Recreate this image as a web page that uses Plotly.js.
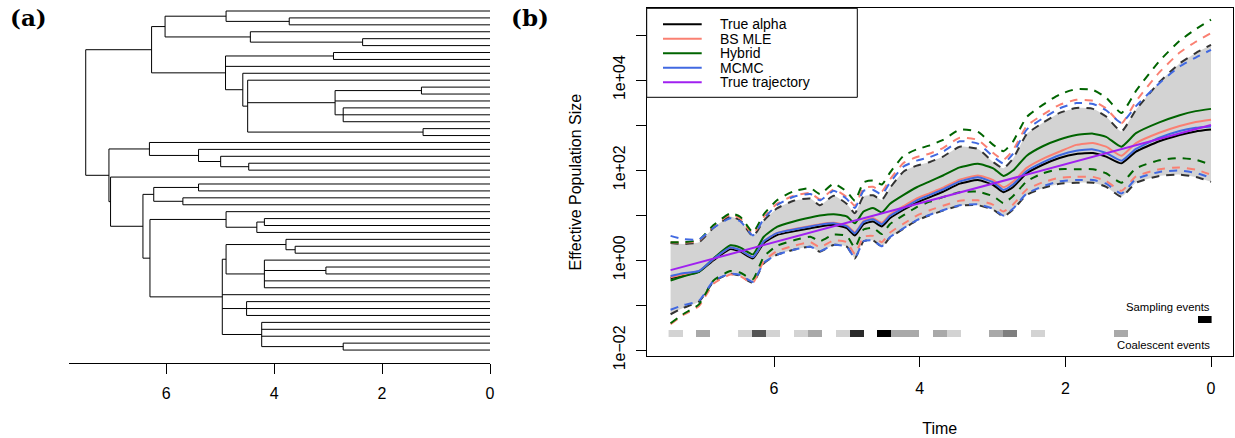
<!DOCTYPE html>
<html><head><meta charset="utf-8">
<script src="https://cdn.plot.ly/plotly-3.0.1.min.js"></script>
<style>html,body{margin:0;padding:0;background:#fff}#chart{width:1235px;height:438px}</style>
</head><body><div id="chart"></div>
<script>
// ---------------- Panel (a): genealogy ----------------
const tipCount = 50;
const nodeIds  = ['n1','n2','n3','n4','n5','n6','n7','n8','n9','n10','n11','n12','n13','n14',
                  'n15','n16','n17','n18','n19','n20','n21','n22','n23','n24','n25','n26','n27','n28',
                  'n29','n30','n31','n32','n33','n34','n35','n36','n37','root'];
const nodeAges = [3.72,4.89,2.36,4.44,6.02,2.90,1.27,2.72,2.87,1.24,4.49,4.58,4.90,6.27,
                  4.47,4.99,5.40,6.31,5.40,5.69,6.23,4.18,4.32,4.89,3.61,3.78,3.04,4.18,
                  4.89,4.51,2.72,4.23,4.96,6.30,6.43,7.03,7.06,7.49];
const nodeKids = [[1,2],[0,'n1'],[4,5],[3,'n3'],['n2','n4'],[6,7],[11,12],[14,15,16],['n7',13,'n8'],[17,18],
                  [10,'n9','n10'],[9,'n11'],['n6',8,'n12'],['n5','n13'],
                  [22,23],[21,'n15'],[20,'n16'],[19,'n17'],[25,26],[27,28],['n19','n20'],[30,31],['n22',32],[29,'n23'],
                  [34,35],[33,'n25'],[37,38],[36,'n27',39,40],['n26','n28'],[42,43,44],[48,49],[45,46,47,'n31'],
                  ['n29',41,'n30','n32'],['n24','n33'],['n21','n34'],[24,'n35'],['n18','n36'],['n14','n37']];
const treeTicks = [6,4,2,0];

// ---------------- Panel (b): effective population size (log10 values) ----------------
const timeGrid = [7.42,7.25,7.03,6.83,6.6,6.46,6.29,6.14,5.96,5.73,5.5,5.37,5.18,5.0,4.89,4.77,4.64,4.52,4.41,4.22,
                  4.04,3.86,3.68,3.45,3.2,2.99,2.85,2.72,2.53,2.31,2.08,1.85,1.62,1.44,1.23,1.03,0.71,0.43,0.21,0.0];
const alphaMed = [-0.40,-0.34,-0.26,0.00,0.25,0.19,0.04,0.38,0.56,0.64,0.71,0.75,0.78,0.71,0.55,0.80,0.86,0.75,0.93,1.12,
                  1.28,1.40,1.52,1.70,1.78,1.67,1.51,1.62,1.93,2.12,2.27,2.36,2.38,2.30,2.15,2.41,2.64,2.78,2.86,2.90];
const alphaUp  = [0.38,0.36,0.40,0.72,0.97,0.88,0.53,0.88,1.15,1.32,1.37,1.22,1.43,1.25,1.04,1.42,1.44,1.34,1.60,1.97,
                  2.10,2.18,2.30,2.52,2.47,2.18,2.04,2.25,2.80,3.05,3.27,3.38,3.36,3.19,2.86,3.34,3.95,4.37,4.60,4.78];
const alphaLo  = [-1.20,-1.06,-0.92,-0.48,-0.30,-0.35,-0.50,-0.07,0.12,0.23,0.30,0.19,0.34,0.30,0.04,0.42,0.44,0.30,0.50,0.70,
                  0.88,1.00,1.10,1.21,1.22,1.12,0.97,1.12,1.45,1.60,1.70,1.72,1.72,1.63,1.41,1.72,1.87,1.90,1.85,1.74];
const mleMed   = [-0.38,-0.32,-0.24,0.03,0.28,0.22,0.07,0.42,0.60,0.69,0.76,0.80,0.83,0.77,0.62,0.87,0.93,0.83,1.01,1.20,
                  1.37,1.49,1.61,1.79,1.88,1.78,1.62,1.74,2.05,2.25,2.41,2.56,2.60,2.52,2.32,2.60,2.83,2.98,3.07,3.12];
const mleUp    = [0.40,0.39,0.43,0.76,1.01,0.92,0.58,0.96,1.25,1.43,1.49,1.35,1.57,1.40,1.21,1.60,1.63,1.53,1.79,2.16,
                  2.29,2.37,2.49,2.72,2.67,2.38,2.23,2.44,2.98,3.23,3.45,3.56,3.54,3.37,3.04,3.53,4.17,4.61,4.85,5.04];
const mleLo    = [-1.42,-1.22,-1.02,-0.52,-0.32,-0.36,-0.50,-0.02,0.20,0.32,0.40,0.29,0.44,0.40,0.14,0.52,0.54,0.40,0.61,0.81,
                  0.99,1.11,1.21,1.32,1.33,1.23,1.08,1.23,1.57,1.73,1.83,1.85,1.85,1.76,1.54,1.86,2.02,2.06,2.01,1.90];
const hybMed   = [-0.45,-0.36,-0.26,0.04,0.33,0.28,0.13,0.52,0.74,0.86,0.95,0.99,1.02,0.97,0.82,1.08,1.16,1.06,1.25,1.45,
                  1.62,1.75,1.88,2.06,2.14,2.04,1.87,1.99,2.32,2.53,2.68,2.78,2.81,2.74,2.52,2.82,3.06,3.22,3.31,3.36];
const hybUp    = [0.40,0.40,0.45,0.78,1.04,0.96,0.62,1.02,1.33,1.53,1.60,1.47,1.70,1.52,1.32,1.73,1.77,1.68,1.94,2.32,
                  2.46,2.55,2.67,2.90,2.85,2.56,2.42,2.63,3.18,3.45,3.68,3.80,3.78,3.61,3.27,3.76,4.42,4.87,5.13,5.34];
const hybLo    = [-1.40,-1.20,-0.98,-0.45,-0.24,-0.28,-0.42,0.08,0.32,0.44,0.52,0.42,0.57,0.54,0.28,0.68,0.72,0.58,0.80,1.00,
                  1.18,1.30,1.40,1.51,1.52,1.42,1.27,1.42,1.75,1.93,2.02,2.02,2.02,1.93,1.72,2.04,2.22,2.27,2.23,2.12];
const mcmcMed  = [-0.35,-0.29,-0.24,0.03,0.28,0.22,0.07,0.42,0.60,0.68,0.75,0.79,0.82,0.75,0.60,0.85,0.91,0.80,0.98,1.16,
                  1.33,1.45,1.57,1.75,1.84,1.73,1.56,1.68,1.98,2.17,2.33,2.43,2.46,2.38,2.21,2.47,2.72,2.87,2.94,2.97];
const mcmcUp   = [0.54,0.47,0.46,0.72,0.93,0.86,0.55,0.92,1.22,1.41,1.47,1.33,1.54,1.36,1.16,1.54,1.56,1.46,1.72,2.08,
                  2.21,2.29,2.41,2.64,2.59,2.30,2.15,2.36,2.90,3.15,3.37,3.49,3.47,3.33,3.05,3.42,3.93,4.30,4.50,4.67];
const mcmcLo   = [-1.10,-1.00,-0.90,-0.46,-0.30,-0.33,-0.48,-0.06,0.12,0.23,0.30,0.20,0.34,0.30,0.05,0.42,0.44,0.31,0.51,0.71,
                  0.89,1.01,1.11,1.22,1.24,1.14,0.99,1.14,1.48,1.64,1.75,1.78,1.78,1.70,1.48,1.80,1.96,1.99,1.94,1.83];
const trueTimes = [7.42, 0.0];
const trueLog   = [-0.22, 3.00];

const eventBinTimes = [7.352,7.161,6.970,6.779,6.588,6.397,6.206,6.015,5.824,5.633,5.442,5.251,5.060,4.869,4.678,4.487,
                       4.296,4.105,3.914,3.723,3.532,3.341,3.150,2.959,2.768,2.577,2.386,2.195,2.004,1.813,1.622,1.431,
                       1.240,1.049,0.858,0.667,0.476,0.285,0.094];
const coalCounts    = [1,0,2,0,0,1,4,1,0,1,2,0,1,5,0,6,2,2,0,2,1,0,0,2,3,0,1,0,0,0,0,0,2,0,0,0,0,0,0];
const sampCounts    = [0,0,0,0,0,0,0,0,0,0,0,0,0,0,0,0,0,0,0,0,0,0,0,0,0,0,0,0,0,0,0,0,0,0,0,0,0,0,50];

const legendNames  = ['True alpha','BS MLE','Hybrid','MCMC','True trajectory'];
const legendColors = ['#000000','#FA8072','#006400','#4169E1','#A020F0'];
const yTickVals  = [1e-2,1e-1,1,10,100,1e3,1e4,1e5];
const yTickText  = ['1e\u221202','','1e+00','','1e+02','','1e+04',''];
const bTicks = [6,4,2,0];

// ---------------- build ----------------
const W = 1235, H = 438;
const FONT = 'Liberation Sans, Arial, Helvetica, sans-serif';
const px = v => v / W, py = v => 1 - v / H;
const pow10 = a => a.map(v => Math.pow(10, v));

// tree segments
const idx = {}; nodeIds.forEach((id, i) => idx[id] = i);
function yOf(c) { if (typeof c === 'number') return c; const k = nodeKids[idx[c]]; return (yOf(k[0]) + yOf(k[k.length - 1])) / 2; }
function ageOf(c) { return typeof c === 'number' ? 0 : nodeAges[idx[c]]; }
const tx = [], ty = [];
nodeIds.forEach((id, i) => {
  const kids = nodeKids[i], a = nodeAges[i], ys = kids.map(yOf);
  tx.push(a, a, null); ty.push(Math.min(...ys), Math.max(...ys), null);
  kids.forEach((c, j) => { tx.push(a, ageOf(c), null); ty.push(ys[j], ys[j], null); });
});

const traces = [];
traces.push({x: tx, y: ty, xaxis: 'x', yaxis: 'y', mode: 'lines', line: {color: '#000', width: 1},
  hoverinfo: 'skip', showlegend: false, name: 'genealogy'});

const SH = {shape: 'spline', smoothing: 0.5};
// gray band (True alpha CI)
traces.push({x: timeGrid, y: pow10(alphaLo), xaxis: 'x2', yaxis: 'y2', mode: 'lines',
  line: Object.assign({width: 0, color: 'rgba(0,0,0,0)'}, SH), showlegend: false, hoverinfo: 'skip'});
traces.push({x: timeGrid, y: pow10(alphaUp), xaxis: 'x2', yaxis: 'y2', mode: 'lines', fill: 'tonexty',
  fillcolor: '#D3D3D3', line: Object.assign({width: 0, color: 'rgba(0,0,0,0)'}, SH), showlegend: false, hoverinfo: 'skip'});

const dashes = [
  ['True alpha', alphaUp, alphaLo, '#333333'],
  ['BS MLE', mleUp, mleLo, '#FA8072'],
  ['Hybrid', hybUp, hybLo, '#006400'],
  ['MCMC', mcmcUp, mcmcLo, '#4169E1']
];
dashes.forEach(d => {
  [d[1], d[2]].forEach(arr => traces.push({x: timeGrid, y: pow10(arr), xaxis: 'x2', yaxis: 'y2', mode: 'lines',
    name: d[0] + ' CI', line: Object.assign({color: d[3], width: 2, dash: '8px,7px'}, SH), showlegend: false, hoverinfo: 'skip'}));
});
const meds = [['True alpha', alphaMed, '#000000'], ['BS MLE', mleMed, '#FA8072'], ['Hybrid', hybMed, '#006400'], ['MCMC', mcmcMed, '#4169E1']];
meds.forEach(m => traces.push({x: timeGrid, y: pow10(m[1]), xaxis: 'x2', yaxis: 'y2', mode: 'lines', name: m[0],
  line: Object.assign({color: m[2], width: 2}, SH), showlegend: false}));
traces.push({x: trueTimes, y: pow10(trueLog), xaxis: 'x2', yaxis: 'y2', mode: 'lines', name: 'True trajectory',
  line: {color: '#A020F0', width: 2}, showlegend: false});

// event strips (overlay axes, y3 in [0,1] of plot height)
const boxTop = 8.3, boxBot = 356, boxH = boxBot - boxTop;
const y3 = p => (boxBot - p) / boxH;
traces.push({type: 'heatmap', x: eventBinTimes, y: [y3(337.3), y3(330)], z: [coalCounts.map(c => c > 0 ? c : null)],
  xaxis: 'x3', yaxis: 'y3', colorscale: [[0, '#D3D3D3'], [1, '#000000']], zmin: 1, zmax: 6, showscale: false,
  hoverinfo: 'skip', name: 'Coalescent events'});
traces.push({type: 'heatmap', x: eventBinTimes, y: [y3(322.7), y3(316)], z: [sampCounts.map(c => c > 0 ? c : null)],
  xaxis: 'x3', yaxis: 'y3', colorscale: [[0, '#D3D3D3'], [1, '#000000']], zmin: 1, zmax: 50, showscale: false,
  hoverinfo: 'skip', name: 'Sampling events'});

// legend (drawn as inset box)
const shapes = [{type: 'rect', xref: 'paper', yref: 'paper', x0: px(646.7), x1: px(857.3), y0: py(97.3), y1: py(8.3),
  line: {color: '#000', width: 1}, fillcolor: '#fff', layer: 'above'}];
const annotations = [];
legendNames.forEach((n, i) => {
  const yy = 24.3 + 14.5 * i;
  shapes.push({type: 'line', xref: 'paper', yref: 'paper', x0: px(663), x1: px(701.7), y0: py(yy), y1: py(yy),
    line: {color: legendColors[i], width: 2}, layer: 'above'});
  annotations.push({xref: 'paper', yref: 'paper', x: px(718.3), y: py(yy), xanchor: 'left', yanchor: 'middle',
    text: n, showarrow: false, font: {size: 14, family: FONT, color: '#000'}});
});
annotations.push({xref: 'paper', yref: 'paper', x: px(1212), y: py(307.3), xanchor: 'right', yanchor: 'middle',
  text: 'Sampling events', showarrow: false, font: {size: 11.3, family: FONT, color: '#000'}});
annotations.push({xref: 'paper', yref: 'paper', x: px(1212), y: py(345.3), xanchor: 'right', yanchor: 'middle',
  text: 'Coalescent events', showarrow: false, font: {size: 11.3, family: FONT, color: '#000'}});
annotations.push({xref: 'paper', yref: 'paper', x: px(8), y: py(18), xanchor: 'left', yanchor: 'middle',
  text: '<b>(a)</b>', showarrow: false, font: {size: 23, family: 'DejaVu Serif, serif', color: '#000'}});
annotations.push({xref: 'paper', yref: 'paper', x: px(509), y: py(18), xanchor: 'left', yanchor: 'middle',
  text: '<b>(b)</b>', showarrow: false, font: {size: 23, family: 'DejaVu Serif, serif', color: '#000'}});

const axCommon = {ticks: 'outside', ticklen: 10, tickwidth: 1, tickcolor: '#000', showline: true, linecolor: '#000',
  linewidth: 1, showgrid: false, zeroline: false, tickfont: {size: 16, family: FONT, color: '#000'}};

const layout = {
  width: W, height: H, margin: {l: 0, r: 0, t: 0, b: 0}, paper_bgcolor: '#fff', plot_bgcolor: 'rgba(0,0,0,0)',
  font: {family: FONT, color: '#000'}, showlegend: false,
  xaxis: Object.assign({}, axCommon, {domain: [px(69), px(490)], range: [7.8, 0], anchor: 'y', tickmode: 'array',
    tickvals: treeTicks, ticktext: treeTicks.map(String), ticklabelstandoff: 6}),
  yaxis: {domain: [py(363), 1], range: [50.87, -1.59], visible: false, anchor: 'x'},
  xaxis2: Object.assign({}, axCommon, {domain: [px(646.7), px(1232.7)], range: [7.748, -0.298], anchor: 'y2',
    tickmode: 'array', tickvals: bTicks, ticktext: bTicks.map(String), mirror: true, ticklabelstandoff: 8,
    title: {text: 'Time', font: {size: 16, family: FONT, color: '#000'}, standoff: 26}}),
  yaxis2: Object.assign({}, axCommon, {domain: [py(boxBot), py(boxTop)], type: 'log', range: [-2.127, 5.593], anchor: 'x2',
    tickmode: 'array', tickvals: yTickVals, ticktext: yTickText, tickangle: -90, mirror: true, ticklabelstandoff: 4,
    title: {text: 'Effective Population Size', font: {size: 16, family: FONT, color: '#000'}, standoff: 25}}),
  xaxis3: {overlaying: 'x2', range: [7.748, -0.298], visible: false, anchor: 'y3'},
  yaxis3: {overlaying: 'y2', range: [0, 1], visible: false, anchor: 'x3'},
  shapes: shapes, annotations: annotations
};

Plotly.newPlot('chart', traces, layout, {staticPlot: true, displayModeBar: false});
</script>
</body></html>
